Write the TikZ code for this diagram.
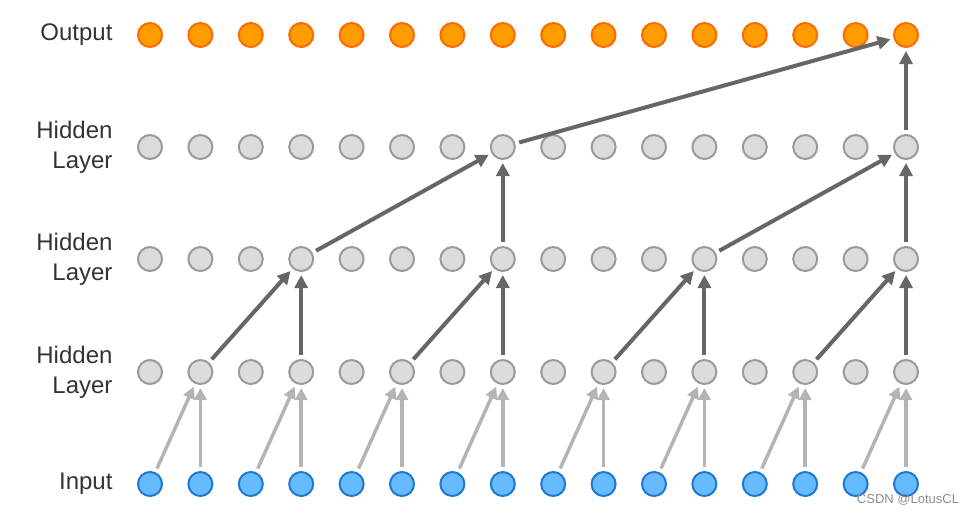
\documentclass[tikz,border=0pt]{standalone}
\usepackage{fontspec}
\setmainfont{Liberation Sans}
\usetikzlibrary{arrows.meta}
\definecolor{outfill}{HTML}{FF9C00}
\definecolor{outdraw}{HTML}{FF6A00}
\definecolor{hidfill}{HTML}{DCDCDC}
\definecolor{hiddraw}{HTML}{9A9A9A}
\definecolor{infill}{HTML}{66BBFF}
\definecolor{indraw}{HTML}{1F78D1}
\definecolor{lightarr}{HTML}{B4B4B4}
\definecolor{darkarr}{HTML}{666666}
\definecolor{lbltext}{HTML}{333333}
\begin{document}
\begin{tikzpicture}[x=1pt,y=-1pt,
  neuron/.style={circle,minimum size=24pt,inner sep=0pt,line width=2pt},
  outnode/.style={neuron,fill=outfill,draw=outdraw},
  hidnode/.style={neuron,fill=hidfill,draw=hiddraw},
  innode/.style={neuron,fill=infill,draw=indraw},
  lightarrow/.style={draw=lightarr,line width=3.5pt,-{Triangle[length=12pt,width=12pt]},shorten >=3pt,shorten <=4pt},
  darkarrow/.style={draw=darkarr,line width=4pt,-{Triangle[length=13pt,width=13pt]},shorten >=3pt,shorten <=4pt},
  lbl/.style={font=\fontsize{24}{30}\selectfont,text=lbltext,align=right,anchor=east}]
\useasboundingbox (0,0) rectangle (971,515);
\foreach \i in {0,...,15} {
  \node[outnode] (o\i) at ({150+50.4*\i},35) {};
  \node[hidnode] (c\i) at ({150+50.4*\i},147) {};
  \node[hidnode] (b\i) at ({150+50.4*\i},259) {};
  \node[hidnode] (a\i) at ({150+50.4*\i},372) {};
  \node[innode] (n\i) at ({150+50.4*\i},484) {};
}
% input -> hidden 1
\foreach \k in {0,...,7} {
  \pgfmathtruncatemacro{\e}{2*\k}
  \pgfmathtruncatemacro{\f}{2*\k+1}
  \draw[lightarrow] (n\e) -- (a\f);
  \draw[lightarrow] (n\f) -- (a\f);
}
% hidden 1 -> hidden 2
\foreach \k in {0,...,3} {
  \pgfmathtruncatemacro{\e}{4*\k+1}
  \pgfmathtruncatemacro{\f}{4*\k+3}
  \draw[darkarrow] (a\e) -- (b\f);
  \draw[darkarrow] (a\f) -- (b\f);
}
% hidden 2 -> hidden 3
\draw[darkarrow] (b3) -- (c7);
\draw[darkarrow] (b7) -- (c7);
\draw[darkarrow] (b11) -- (c15);
\draw[darkarrow] (b15) -- (c15);
% hidden 3 -> output
\draw[darkarrow] (c7) -- (o15);
\draw[darkarrow] (c15) -- (o15);
% labels
\node[lbl] (lout) at (116,35) {Output};
\node[lbl] (l3) at (116,147) {Hidden\\Layer};
\node[lbl] (l2) at (116,259) {Hidden\\Layer};
\node[lbl] (l1) at (116,372) {Hidden\\Layer};
\node[lbl] (lin) at (116,484) {Input};
\node[font=\fontsize{13}{15}\selectfont,text=gray!90] (wm) at (908,500) {CSDN @LotusCL};
\end{tikzpicture}
\end{document}
